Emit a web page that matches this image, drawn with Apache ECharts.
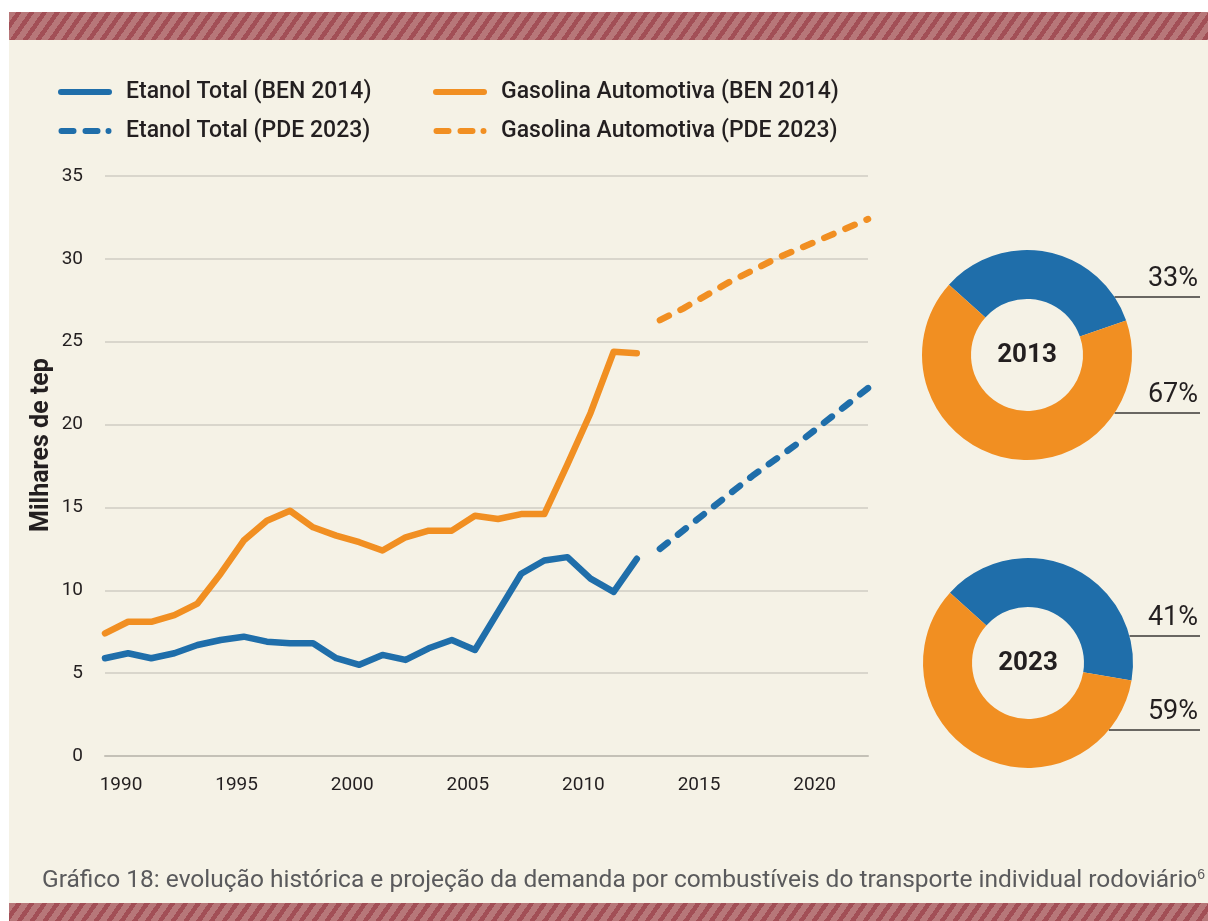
<!DOCTYPE html>
<html>
<head>
<meta charset="utf-8">
<script src="https://cdn.jsdelivr.net/npm/echarts@6/dist/echarts.min.js"></script>
<style>
  html, body { margin: 0; padding: 0; background: #fff; }
  .paper { position: absolute; left: 9px; top: 12px; width: 1199px; height: 909px; background: #f5f2e6; }
  .band { position: absolute; left: 9px; width: 1199px; background-color: #b77779;
    background-image: repeating-linear-gradient(125deg, #b77779 0 6px, #a24f56 6px 10.5px); }
  .band.top { top: 12px; height: 28px; }
  .band.bottom { top: 903px; height: 18px; }
  #chart { position: absolute; left: 0; top: 0; width: 1208px; height: 921px; }
</style>
</head>
<body>
<div class="paper"></div>
<div class="band top"></div>
<div class="band bottom"></div>
<div id="chart"></div>
<script>
const histYears = [1990, 1991, 1992, 1993, 1994, 1995, 1996, 1997, 1998, 1999, 2000, 2001,
  2002, 2003, 2004, 2005, 2006, 2007, 2008, 2009, 2010, 2011, 2012, 2013]
const etanolBen = [5.9, 6.2, 5.9, 6.2, 6.7, 7.0, 7.2, 6.9, 6.8, 6.8, 5.9, 5.5,
  6.1, 5.8, 6.5, 7.0, 6.4, 8.7, 11.0, 11.8, 12.0, 10.7, 9.9, 11.9]
const gasolinaBen = [7.4, 8.1, 8.1, 8.5, 9.2, 11.0, 13.0, 14.2, 14.8, 13.8, 13.3, 12.9,
  12.4, 13.2, 13.6, 13.6, 14.5, 14.3, 14.6, 14.6, 17.6, 20.7, 24.4, 24.3]

const projYears = [2014, 2015, 2016, 2017, 2018, 2019, 2020, 2021, 2022, 2023]
const etanolPde = [12.5, 13.6, 14.7, 15.8, 16.9, 17.9, 18.9, 20.0, 21.1, 22.2]
const gasolinaPde = [26.3, 27.0, 27.8, 28.6, 29.3, 30.0, 30.6, 31.2, 31.8, 32.4]

const shareNames = ['Etanol Total', 'Gasolina Automotiva']
const share2013 = [33, 67]
const share2023 = [41, 59]
const donutYears = ['2013', '2023']

const BLUE = '#1f6eaa'
const ORANGE = '#f18f22'
const INK = '#231f20'
const FONT = 'Roboto, "DejaVu Sans", sans-serif'

// legend icons: a thick line, or "dash dash dot"
const ICON_SOLID = 'path://M3,0H51A3,3 0 0 1 51,6H3A3,3 0 0 1 3,0Z'
const ICON_DASHED = 'path://M3,0H15A3,3 0 0 1 15,6H3A3,3 0 0 1 3,0Z' +
  'M27,0H39A3,3 0 0 1 39,6H27A3,3 0 0 1 27,0Z' +
  'M50,0A3,3 0 0 1 50,6A3,3 0 0 1 50,0Z'

const pairs = (xs, ys) => xs.map((x, i) => [x, ys[i]])

// donut geometry
const donutCenters = [[1027, 355], [1028, 663]]
const donutR = [56, 105]
// vertical offset of each label underline from the donut centre
const labelOffsets = [[-58, 58], [-27, 67]]
const labelRight = 1200

const lineSeries = (name, data, color, dashed) => ({
  name,
  type: 'line',
  data,
  symbol: 'none',
  lineStyle: {
    color,
    width: 6.5,
    type: dashed ? [10, 13] : 'solid',
    cap: 'round',
    join: 'round'
  },
  itemStyle: { color },
  z: 3
})

const donut = (idx, values) => ({
  type: 'pie',
  center: donutCenters[idx],
  radius: donutR,
  startAngle: 138,
  clockwise: true,
  silent: true,
  avoidLabelOverlap: false,
  data: values.map((v, i) => ({
    name: shareNames[i],
    value: v,
    itemStyle: { color: i === 0 ? BLUE : ORANGE }
  })),
  label: {
    show: true,
    position: 'outside',
    formatter: '{c}%',
    fontFamily: FONT,
    fontSize: 27,
    color: INK
  },
  labelLine: { show: true, lineStyle: { color: '#3a3836', width: 1.5 } },
  labelLayout: (p) => {
    const [cx, cy] = donutCenters[idx]
    const dy = labelOffsets[idx][p.dataIndex]
    const y = cy + dy
    const x0 = cx + Math.sqrt(donutR[1] * donutR[1] - dy * dy)
    return {
      x: labelRight - 2,
      y: y - 18,
      align: 'right',
      verticalAlign: 'middle',
      labelLinePoints: [[x0, y], [(x0 + labelRight) / 2, y], [labelRight, y]]
    }
  }
})

const legendBase = {
  orient: 'vertical',
  top: 74,
  itemWidth: 54,
  itemHeight: 6,
  itemGap: 13,
  selectedMode: false,
  textStyle: { fontSize: 23, fontWeight: 500, color: INK, lineHeight: 26, padding: [0, 0, 0, 9] }
}

const chart = echarts.init(document.getElementById('chart'))

chart.setOption({
  backgroundColor: 'transparent',
  animation: false,
  textStyle: { fontFamily: FONT },
  legend: [
    {
      ...legendBase,
      left: 53,
      data: [
        { name: 'Etanol Total (BEN 2014)', icon: ICON_SOLID },
        { name: 'Etanol Total (PDE 2023)', icon: ICON_DASHED }
      ]
    },
    {
      ...legendBase,
      left: 428,
      data: [
        { name: 'Gasolina Automotiva (BEN 2014)', icon: ICON_SOLID },
        { name: 'Gasolina Automotiva (PDE 2023)', icon: ICON_DASHED }
      ]
    }
  ],
  grid: { left: 105, right: 340, top: 176, bottom: 165 },
  xAxis: {
    type: 'value',
    min: 1990,
    max: 2023,
    interval: 5,
    axisLine: { show: true, lineStyle: { color: '#c4c1b7', width: 2 } },
    axisTick: { show: false },
    splitLine: { show: false },
    axisLabel: {
      color: INK,
      fontSize: 19,
      margin: 20,
      padding: [0, 0, 0, 32],
      formatter: (v) => (v % 5 === 0 ? String(v) : '')
    }
  },
  yAxis: {
    type: 'value',
    min: 0,
    max: 35,
    interval: 5,
    name: 'Milhares de tep',
    nameLocation: 'middle',
    nameGap: 51,
    nameMoveOverlap: false,
    nameTextStyle: { fontSize: 25, fontWeight: 'bold', color: INK, padding: [0, 0, 0, 42] },
    axisLine: { show: false },
    axisTick: { show: false },
    splitLine: { lineStyle: { color: '#d9d6cc', width: 2 } },
    axisLabel: { color: INK, fontSize: 19, margin: 22 }
  },
  series: [
    lineSeries('Etanol Total (BEN 2014)', pairs(histYears, etanolBen), BLUE, false),
    lineSeries('Gasolina Automotiva (BEN 2014)', pairs(histYears, gasolinaBen), ORANGE, false),
    lineSeries('Etanol Total (PDE 2023)', pairs(projYears, etanolPde), BLUE, true),
    lineSeries('Gasolina Automotiva (PDE 2023)', pairs(projYears, gasolinaPde), ORANGE, true),
    donut(0, share2013),
    donut(1, share2023)
  ],
  graphic: [
    ...donutYears.map((t, i) => ({
      type: 'text',
      x: donutCenters[i][0],
      y: donutCenters[i][1],
      style: {
        text: t,
        fontFamily: FONT,
        fontSize: 26,
        fontWeight: 'bold',
        fill: INK,
        align: 'center',
        verticalAlign: 'middle'
      }
    })),
    {
      type: 'text',
      left: 42,
      top: 868,
      style: {
        text: 'Gráfico 18: evolução histórica e projeção da demanda por combustíveis do transporte individual rodoviário{s|6}',
        rich: { s: { fontSize: 14, verticalAlign: 'top', fill: '#5a5a5c', padding: [0, 0, 12, 0] } },
        fontFamily: FONT,
        fontSize: 24.5,
        fill: '#5a5a5c'
      }
    }
  ]
})
</script>
</body>
</html>
